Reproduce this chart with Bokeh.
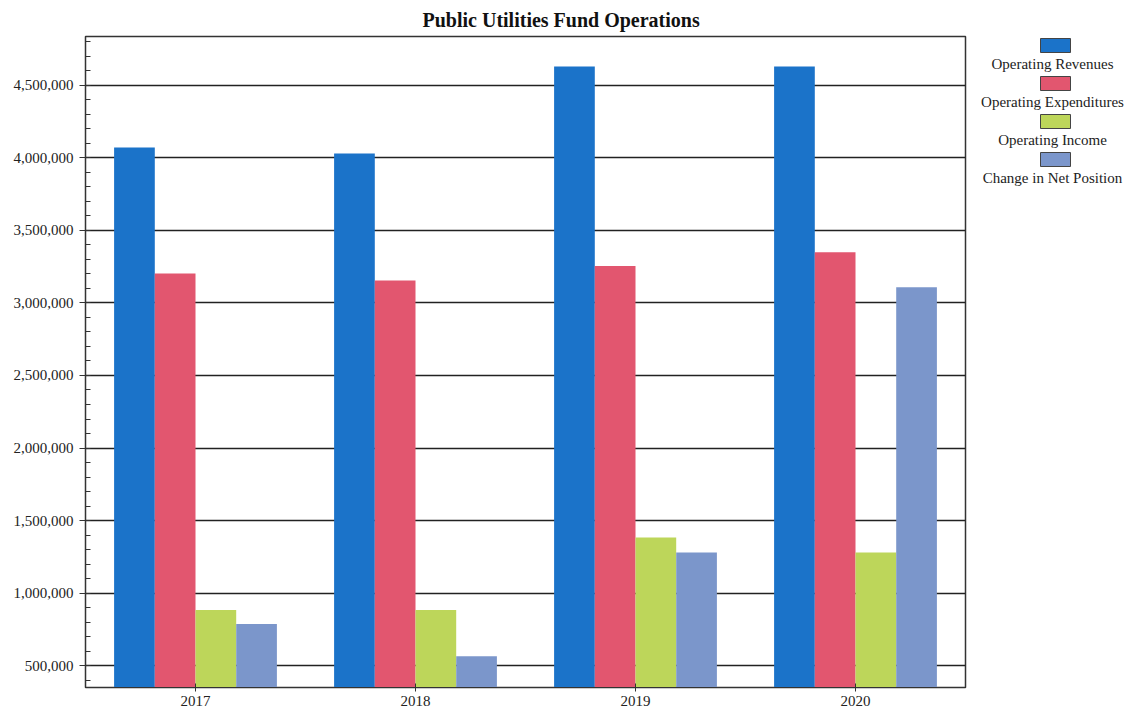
from bokeh.plotting import figure
from bokeh.models import (ColumnDataSource, FactorRange, Range1d, FixedTicker,
                          NumeralTickFormatter)
from bokeh.transform import dodge
from bokeh.layouts import row
from bokeh.embed import file_html
from bokeh.resources import INLINE
from bokeh.core.properties import value

# ---- data ----
years = ["2017", "2018", "2019", "2020"]
operating_revenues = [4072000, 4031000, 4631000, 4631000]
operating_expenditures = [3203000, 3155000, 3255000, 3349000]
operating_income = [883000, 883000, 1383000, 1279000]
change_in_net_position = [786000, 565000, 1279000, 3108000]

series_names = ["Operating Revenues", "Operating Expenditures",
                "Operating Income", "Change in Net Position"]
series_keys = ["rev", "exp", "inc", "chg"]
series_colors = ["#1b73c9", "#e2566f", "#bdd65a", "#7b96cb"]

y_major = [500000, 1000000, 1500000, 2000000, 2500000, 3000000, 3500000, 4000000, 4500000]
y_minor = [v for v in range(400000, 4900000, 100000)]

FONT = "Liberation Serif"

src = ColumnDataSource(dict(year=years, rev=operating_revenues, exp=operating_expenditures,
                            inc=operating_income, chg=change_in_net_position))

p = figure(x_range=FactorRange(*years), y_range=Range1d(349000, 4837000),
           width=975, height=715, output_backend="svg", toolbar_location=None,
           min_border_left=85, min_border_right=10, min_border_top=36, min_border_bottom=28)

bw = 0.185
offsets = [-1.5 * bw, -0.5 * bw, 0.5 * bw, 1.5 * bw]
for key, off, col in zip(series_keys, offsets, series_colors):
    p.vbar(x=dodge("year", off, range=p.x_range), top=key, bottom=0, width=bw,
           source=src, fill_color=col, line_color=None)

# title
p.title.text = "Public Utilities Fund Operations"
p.title.text_font = FONT
p.title.text_font_size = "20px"
p.title.text_font_style = "bold"
p.title.text_color = "#111"
p.title.align = "left"
p.title.offset = 337
p.title.standoff = 11

# y axis
p.yaxis.ticker = FixedTicker(ticks=y_major, minor_ticks=y_minor)
p.yaxis.formatter = NumeralTickFormatter(format="0,0")
p.yaxis.major_label_text_font = FONT
p.yaxis.major_label_text_font_size = "15px"
p.yaxis.major_label_text_color = "#222"
p.yaxis.major_tick_out = 6
p.yaxis.major_tick_in = 0
p.yaxis.minor_tick_in = 5
p.yaxis.minor_tick_out = 0
p.yaxis.axis_line_color = "#333"
p.yaxis.major_tick_line_color = "#333"
p.yaxis.minor_tick_line_color = "#333"
p.yaxis.major_label_standoff = 6

# x axis
p.xaxis.major_label_text_font = FONT
p.xaxis.major_label_text_font_size = "15px"
p.xaxis.major_label_text_color = "#222"
p.xaxis.major_tick_in = 4
p.xaxis.major_tick_out = 4
p.xaxis.major_label_standoff = 4
p.xaxis.axis_line_color = "#333"
p.xaxis.major_tick_line_color = "#333"

# grid
p.xgrid.visible = False
p.ygrid.ticker = FixedTicker(ticks=y_major)
p.ygrid.grid_line_color = "#222"
p.ygrid.grid_line_width = 1.5

p.outline_line_color = "#333"
p.outline_line_width = 1.5
p.background_fill_color = "white"
p.border_fill_color = "white"

# legend panel (separate figure on the right; its frame is aligned with the main frame,
# so the ranges are chosen to map 1:1 onto page pixels)
leg = figure(width=153, height=715, x_range=Range1d(0, 153), y_range=Range1d(687, 36),
             output_backend="svg", toolbar_location=None,
             x_axis_location=None, y_axis_location=None,
             min_border_left=0, min_border_right=0, min_border_top=36, min_border_bottom=28)
leg.grid.visible = False
leg.outline_line_color = None
leg.border_fill_color = "white"
leg.background_fill_color = "white"

sw_y = [45 + 38 * i for i in range(len(series_names))]
tx_y = [y + 18 for y in sw_y]
leg.rect(x=[80] * len(series_names), y=sw_y, width=30, height=14,
         fill_color=series_colors, line_color="#444", line_width=1)
leg.text(x=[77] * len(series_names), y=tx_y, text=series_names,
         text_font=value(FONT), text_font_size="15px", text_color="#222",
         text_align="center", text_baseline="middle")

layout = row(p, leg)
open("out.html", "w").write(file_html(layout, INLINE))
